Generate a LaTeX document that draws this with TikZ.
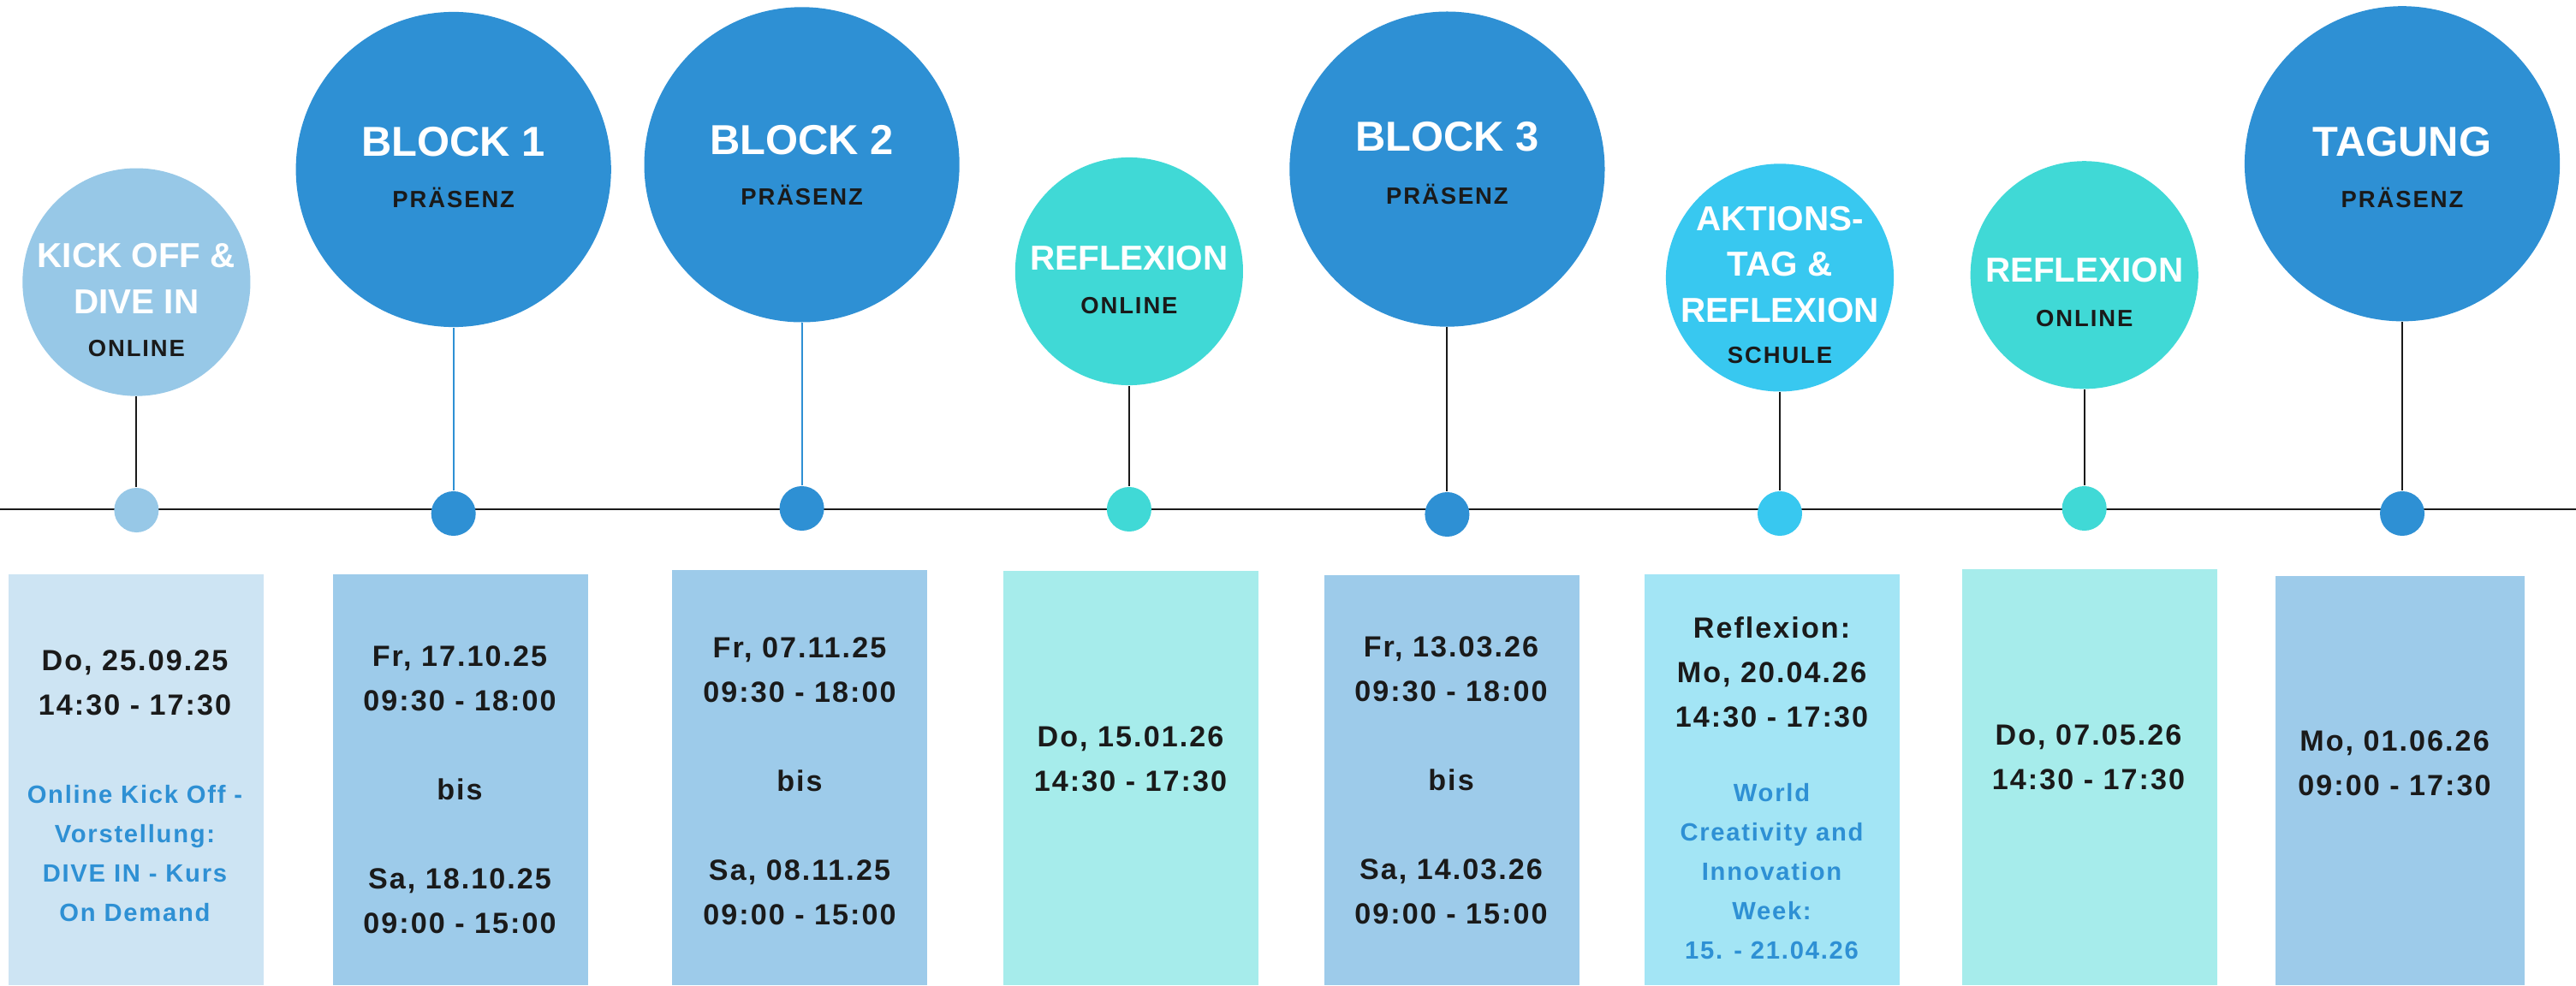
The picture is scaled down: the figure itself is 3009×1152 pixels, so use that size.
\documentclass[tikz,border=0pt]{standalone}
\usepackage{fontspec}
\setmainfont{Liberation Sans}
\newfontfamily\spacedfont{Liberation Sans}[LetterSpace=6]
\newfontfamily\subfont{Liberation Sans}[LetterSpace=7]
\usepackage{tikz}

\definecolor{darkblue}{HTML}{2E90D4}
\definecolor{paleblue}{HTML}{97C8E7}
\definecolor{turq}{HTML}{40D9D6}
\definecolor{cyanblue}{HTML}{38C8F0}
\definecolor{boxpale}{HTML}{CDE4F3}
\definecolor{boxblue}{HTML}{9DCBEA}
\definecolor{boxturq}{HTML}{A6ECEB}
\definecolor{boxcyan}{HTML}{A3E5F5}
\definecolor{inkblack}{HTML}{1A1A1A}

\newcommand{\lines}[1]{\begin{tabular}[t]{@{}c@{}}#1\end{tabular}}

\tikzset{
	bigcircle/.style={circle, inner sep=0pt, minimum size=3.68cm, fill=darkblue},
	smallcircle/.style={circle, inner sep=0pt, minimum size=2.66cm},
	dot/.style={circle, inner sep=0pt, minimum size=0.52cm},
	stem/.style={line width=0.55pt, color=inkblack},
	datebox/.style={anchor=south west, inner sep=0pt, minimum width=2.98cm},
	bigtitle/.style={anchor=base, inner sep=0pt, text=white, font=\bfseries\fontsize{13.9}{16}\selectfont},
	circtitle/.style={anchor=base, inner sep=0pt, text=white, font=\bfseries\fontsize{11.5}{15.2}\selectfont},
	circsub/.style={anchor=base, inner sep=0pt, text=inkblack, font=\subfont\bfseries\fontsize{7.8}{9}\selectfont},
	datetext/.style={anchor=base, inner sep=0pt, text=inkblack, font=\spacedfont\bfseries\fontsize{9.7}{14.8}\selectfont},
	notetext/.style={anchor=base, inner sep=0pt, text=darkblue, font=\spacedfont\bfseries\fontsize{8.3}{13.1}\selectfont}
}

\begin{document}
\begin{tikzpicture}[x=0.01cm, y=-0.01cm]
	\useasboundingbox (0,0) rectangle (3009,1152);

	\node[datebox, fill=boxpale, minimum height=4.80cm] (box1) at (8.9,1152) {};
	\node[datebox, fill=boxblue, minimum height=4.80cm] (box2) at (387.8,1152) {};
	\node[datebox, fill=boxblue, minimum height=4.85cm] (box3) at (784.4,1152) {};
	\node[datebox, fill=boxturq, minimum height=4.84cm] (box4) at (1171,1152) {};
	\node[datebox, fill=boxblue, minimum height=4.79cm] (box5) at (1546,1152) {};
	\node[datebox, fill=boxcyan, minimum height=4.80cm] (box6) at (1920,1152) {};
	\node[datebox, fill=boxturq, minimum height=4.86cm] (box7) at (2291,1152) {};
	\node[datebox, fill=boxblue, minimum height=4.78cm, minimum width=2.91cm] (box8) at (2657,1152) {};

	\coordinate (lineL) at (0,595);
	\coordinate (lineR) at (3009,595);
	\draw[line width=0.7pt, color=inkblack] (lineL) -- (lineR);

	\node[smallcircle, fill=paleblue] (c1) at (159.4,329.6) {};
	\node[bigcircle] (c2) at (529.7,198) {};
	\node[bigcircle] (c3) at (936.6,192.4) {};
	\node[smallcircle, fill=turq] (c4) at (1318.9,317) {};
	\node[bigcircle] (c5) at (1690.4,197.6) {};
	\node[smallcircle, fill=cyanblue] (c6) at (2079,324.4) {};
	\node[smallcircle, fill=turq] (c7) at (2434.7,321.3) {};
	\node[bigcircle] (c8) at (2806,191.3) {};

	\node[dot, fill=paleblue] (d1) at (159.4,596) {};
	\node[dot, fill=darkblue] (d2) at (529.7,600) {};
	\node[dot, fill=darkblue] (d3) at (936.6,594) {};
	\node[dot, fill=turq] (d4) at (1318.9,595) {};
	\node[dot, fill=darkblue] (d5) at (1690.4,601) {};
	\node[dot, fill=cyanblue] (d6) at (2079,600) {};
	\node[dot, fill=turq] (d7) at (2434.7,594) {};
	\node[dot, fill=darkblue] (d8) at (2806,600) {};

	\draw[stem] (c1.south) -- (d1.north);
	\draw[stem, color=darkblue] (c2.south) -- (d2.north);
	\draw[stem, color=darkblue] (c3.south) -- (d3.north);
	\draw[stem] (c4.south) -- (d4.north);
	\draw[stem] (c5.south) -- (d5.north);
	\draw[stem] (c6.south) -- (d6.north);
	\draw[stem] (c7.south) -- (d7.north);
	\draw[stem] (c8.south) -- (d8.north);

	\node[circtitle] (t1) at (159.4,313) {\lines{KICK OFF \&\\DIVE IN}};
	\node[circsub] (s1) at (159.4,416.7) {ONLINE};
	\node[bigtitle] (t2) at (529.7,182.4) {BLOCK 1};
	\node[circsub] (s2) at (529.7,242.5) {PRÄSENZ};
	\node[bigtitle] (t3) at (936.6,181) {BLOCK 2};
	\node[circsub] (s3) at (936.6,239.6) {PRÄSENZ};
	\node[circtitle] (t4) at (1318.9,316) {REFLEXION};
	\node[circsub] (s4) at (1318.9,367) {ONLINE};
	\node[bigtitle] (t5) at (1690.4,176.2) {BLOCK 3};
	\node[circsub] (s5) at (1690.4,238.4) {PRÄSENZ};
	\node[circtitle] (t6) at (2079,269.4) {\lines{AKTIONS-\\TAG \&\\REFLEXION}};
	\node[circsub] (s6) at (2079,424.5) {SCHULE};
	\node[circtitle] (t7) at (2434.7,329.8) {REFLEXION};
	\node[circsub] (s7) at (2434.7,381.2) {ONLINE};
	\node[bigtitle] (t8) at (2806,182.4) {TAGUNG};
	\node[circsub] (s8) at (2806,242.5) {PRÄSENZ};

	\node[datetext] (date1) at (157.5,783.3) {\lines{Do, 25.09.25\\14:30 - 17:30}};
	\node[notetext] (note1) at (157.5,938) {\lines{Online Kick Off -\\Vorstellung:\\DIVE IN - Kurs\\On Demand}};
	\node[datetext] (date2) at (537,778.3) {\lines{Fr, 17.10.25\\09:30 - 18:00\\ \\bis\\ \\Sa, 18.10.25\\09:00 - 15:00}};
	\node[datetext] (date3) at (934,768.3) {\lines{Fr, 07.11.25\\09:30 - 18:00\\ \\bis\\ \\Sa, 08.11.25\\09:00 - 15:00}};
	\node[datetext] (date4) at (1320.5,872.7) {\lines{Do, 15.01.26\\14:30 - 17:30}};
	\node[datetext] (date5) at (1695,767.3) {\lines{Fr, 13.03.26\\09:30 - 18:00\\ \\bis\\ \\Sa, 14.03.26\\09:00 - 15:00}};
	\node[datetext] (date6) at (2069.5,745.7) {\lines{Reflexion:\\Mo, 20.04.26\\14:30 - 17:30}};
	\node[notetext] (note6) at (2069.5,936.7) {\lines{World\\Creativity and\\Innovation\\Week:\\15. - 21.04.26}};
	\node[datetext] (date7) at (2439.5,870.7) {\lines{Do, 07.05.26\\14:30 - 17:30}};
	\node[datetext] (date8) at (2797,877.7) {\lines{Mo, 01.06.26\\09:00 - 17:30}};
\end{tikzpicture}
\end{document}
